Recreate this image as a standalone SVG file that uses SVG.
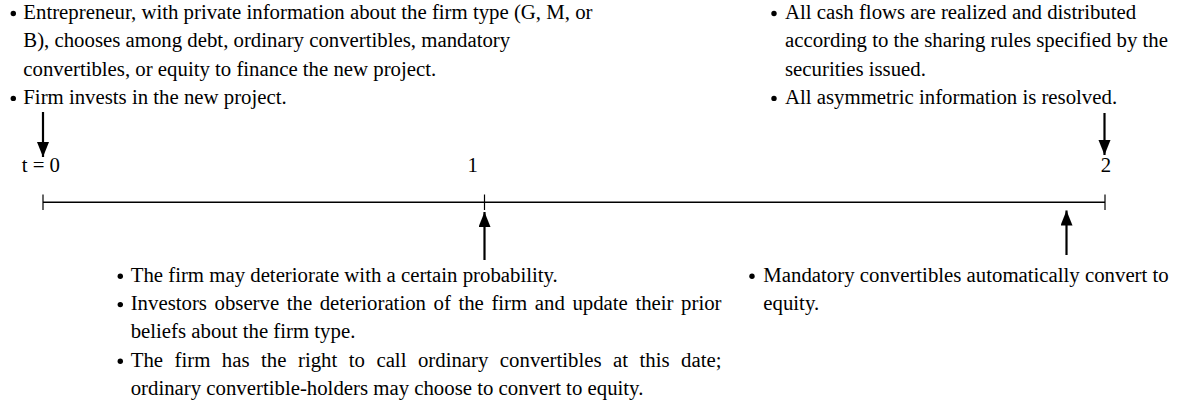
<svg xmlns="http://www.w3.org/2000/svg" width="1177" height="404" viewBox="0 0 1177 404">
<style>
text { font-family: "Liberation Serif", "Times New Roman", serif; font-size: 20.8px; fill: #000; }
.bul { fill: #000; }
.axis { stroke: #000; stroke-width: 1.4; fill: none; }
.tick { stroke: #000; stroke-width: 1.2; fill: none; }
.arr { stroke: #000; stroke-width: 2.2; fill: none; marker-end: url(#ah); }
</style>
<defs>
<marker id="ah" markerUnits="userSpaceOnUse" markerWidth="16" markerHeight="13" refX="15" refY="6" orient="auto">
<path d="M0,0 L15,6 L0,12 z" fill="#000"/>
</marker>
</defs>
<rect x="0" y="0" width="1177" height="404" fill="#fff"/>

<g id="event-t0">
<circle class="bul" cx="13.3" cy="13.5" r="2.7"/>
<text x="23.3" y="19">Entrepreneur, with private information about the firm type (G, M, or</text>
<text x="23.3" y="47.3">B), chooses among debt, ordinary convertibles, mandatory</text>
<text x="23.3" y="75.6">convertibles, or equity to finance the new project.</text>
<circle class="bul" cx="13.3" cy="98.4" r="2.7"/>
<text x="23.3" y="103.9">Firm invests in the new project.</text>
</g>

<g id="event-t2">
<circle class="bul" cx="774" cy="13.5" r="2.7"/>
<text x="785" y="19">All cash flows are realized and distributed</text>
<text x="785" y="47.3">according to the sharing rules specified by the</text>
<text x="785" y="75.6">securities issued.</text>
<circle class="bul" cx="774" cy="98.4" r="2.7"/>
<text x="785" y="103.9">All asymmetric information is resolved.</text>
</g>

<g id="event-t1">
<circle class="bul" cx="120.3" cy="276.3" r="2.7"/>
<text x="130.7" y="281.8">The firm may deteriorate with a certain probability.</text>
<circle class="bul" cx="120.3" cy="304.6" r="2.7"/>
<text x="130.7" y="310.1" word-spacing="2.37">Investors observe the deterioration of the firm and update their prior</text>
<text x="130.7" y="338.4">beliefs about the firm type.</text>
<circle class="bul" cx="120.3" cy="361.2" r="2.7"/>
<text x="130.7" y="366.7" word-spacing="6.3">The firm has the right to call ordinary convertibles at this date;</text>
<text x="130.7" y="395">ordinary convertible-holders may choose to convert to equity.</text>
</g>

<g id="event-before-t2">
<circle class="bul" cx="752" cy="276.3" r="2.7"/>
<text x="763.3" y="281.8">Mandatory convertibles automatically convert to</text>
<text x="763.3" y="310.1">equity.</text>
</g>

<g id="labels">
<text x="21.7" y="172">t = 0</text>
<text x="472.7" y="172" text-anchor="middle">1</text>
<text x="1106" y="172" text-anchor="middle">2</text>
</g>

<g id="connectors">
<line class="axis" x1="43" y1="202.3" x2="1105" y2="202.3"/>
<line class="tick" x1="43" y1="194.5" x2="43" y2="210"/>
<line class="tick" x1="484.5" y1="194.5" x2="484.5" y2="210"/>
<line class="tick" x1="1105" y1="194.5" x2="1105" y2="210"/>
<line class="arr" x1="43" y1="112" x2="43" y2="157"/>
<line class="arr" x1="1104.5" y1="113" x2="1104.5" y2="155"/>
<line class="arr" x1="484.5" y1="260" x2="484.5" y2="212"/>
<line class="arr" x1="1066.5" y1="255" x2="1066.5" y2="210.5"/>
</g>
</svg>
